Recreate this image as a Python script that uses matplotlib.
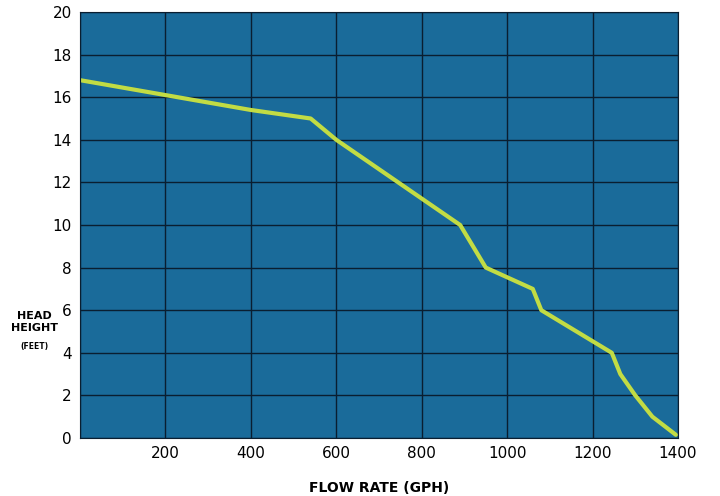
import matplotlib
matplotlib.use("Agg")
import matplotlib.pyplot as plt

flow = [0, 200, 400, 540, 600, 890, 950, 1060, 1080, 1245, 1265, 1300, 1340, 1395]
head = [16.8, 16.1, 15.4, 15.0, 14.0, 10.0, 8.0, 7.0, 6.0, 4.0, 3.0, 2.0, 1.0, 0.15]
xticks = [0, 200, 400, 600, 800, 1000, 1200, 1400]
yticks = list(range(0, 21, 2))

fig = plt.figure(figsize=(7.2, 4.96), dpi=100)
ax = fig.add_axes([80/720, 58/496, 598/720, 426/496])
ax.set_facecolor("#1a6b9a")
ax.plot(flow, head, color="#c2dc44", lw=3, solid_capstyle="round")
ax.set_xlim(0, 1400)
ax.set_ylim(0, 20)
ax.set_xticks(xticks)
ax.set_yticks(yticks)
ax.set_xticklabels([str(v) if v else "" for v in xticks], fontsize=11)
ax.set_yticklabels([str(v) for v in yticks], fontsize=11)
ax.grid(True, color="#0a1e30", lw=1)
ax.set_axisbelow(True)
ax.tick_params(length=0, pad=6)
for s in ax.spines.values():
    s.set_color("#0a1e30")
ax.set_xlabel("FLOW RATE (GPH)", fontsize=10, fontweight="bold", labelpad=14)
fig.text(34/720, 1-322/496, "HEAD\nHEIGHT", fontsize=8, fontweight="bold", ha="center", va="center", linespacing=1.2)
fig.text(34/720, 1-346/496, "(FEET)", fontsize=5.5, fontweight="bold", ha="center", va="center")
fig.savefig("out.png", dpi=100)
